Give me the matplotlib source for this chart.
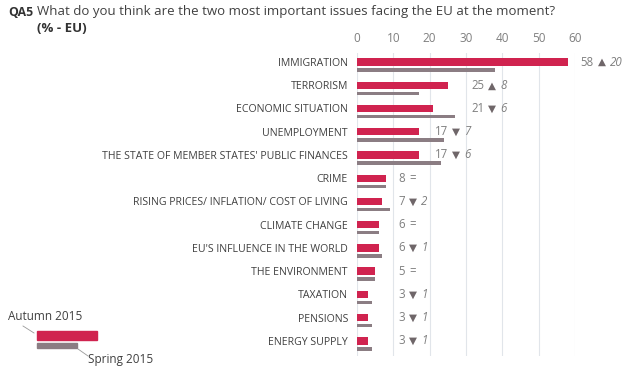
import numpy as np
import matplotlib
matplotlib.use("Agg")
import matplotlib.pyplot as plt
from matplotlib.patches import Rectangle
from matplotlib.lines import Line2D

# Data: Standard Eurobarometer QA5, autumn 2015 vs spring 2015
issues = [
    "IMMIGRATION", "TERRORISM", "ECONOMIC SITUATION", "UNEMPLOYMENT",
    "THE STATE OF MEMBER STATES' PUBLIC FINANCES", "CRIME",
    "RISING PRICES/ INFLATION/ COST OF LIVING", "CLIMATE CHANGE",
    "EU'S INFLUENCE IN THE WORLD", "THE ENVIRONMENT", "TAXATION",
    "PENSIONS", "ENERGY SUPPLY",
]
autumn_2015 = [58, 25, 21, 17, 17, 8, 7, 6, 6, 5, 3, 3, 3]
spring_2015 = [38, 17, 27, 24, 23, 8, 9, 6, 7, 5, 4, 4, 4]
change = [a - s for a, s in zip(autumn_2015, spring_2015)]
x_ticks = [0, 10, 20, 30, 40, 50, 60]

RED = "#d0234f"
GREY = "#8b7d83"
TEXT = "#404040"
LIGHT = "#7f7f7f"

plt.rcParams["font.family"] = ["Open Sans", "DejaVu Sans"]

fig = plt.figure(figsize=(6.25, 3.71), dpi=100)
ax = fig.add_axes([357 / 625, 1 - 355.6 / 371, 218 / 625, 302.2 / 371])

y = np.arange(len(issues))
ax.barh(y - 0.13, autumn_2015, height=0.32, color=RED, zorder=3)
ax.barh(y + 0.215, spring_2015, height=0.15, color=GREY, zorder=3)

ax.set_xlim(0, 60)
ax.set_ylim(len(issues) - 0.5, -0.5)
ax.set_xticks(x_ticks)
ax.xaxis.tick_top()
ax.tick_params(axis="x", length=0, pad=6, labelsize=8.5, labelcolor=LIGHT)
ax.set_yticks(y - 0.13)
ax.set_yticklabels(issues)
ax.tick_params(axis="y", length=0, pad=6.5, labelsize=7.6, labelcolor=TEXT)
for s in ax.spines.values():
    s.set_visible(False)
ax.grid(axis="x", color="#e1e5ea", linewidth=0.8, zorder=0)

# value + change annotations, placed just after the next gridline
for i, (v, d) in enumerate(zip(autumn_2015, change)):
    tx = np.ceil(v / 10) * 10 + 1.4
    t = ax.text(tx, i - 0.13, str(v), fontsize=8.3, color=LIGHT, va="center")
    if d == 0:
        ax.annotate("=", xy=(1, 0), xycoords=t, xytext=(3, 0),
                    textcoords="offset points", fontsize=8.3, color=LIGHT,
                    va="bottom")
    else:
        sym = "\u25b2" if d > 0 else "\u25bc"
        s = ax.annotate(sym, xy=(1, 0), xycoords=t, xytext=(3, 1),
                        textcoords="offset points", fontsize=7.5,
                        color="#6f6669", va="bottom", family="DejaVu Sans")
        ax.annotate(str(abs(d)), xy=(1, 0), xycoords=s, xytext=(3, -1),
                    textcoords="offset points", fontsize=8.3, color=LIGHT,
                    style="italic", va="bottom")

# title
fig.text(8 / 625, 1 - 12 / 371, "QA5", fontsize=8.8, fontweight="bold",
         color="#333333", va="center")
fig.text(37 / 625, 1 - 12 / 371,
         "What do you think are the two most important issues facing the EU at the moment?",
         fontsize=9.5, color=TEXT, va="center")
fig.text(37 / 625, 1 - 28 / 371, "(% - EU)", fontsize=9.5, fontweight="bold",
         color="#333333", va="center")

# hand-made legend
fig.patches.append(Rectangle((37 / 625, 1 - 340 / 371), 60 / 625, 9 / 371,
                             transform=fig.transFigure, color=RED))
fig.patches.append(Rectangle((37 / 625, 1 - 348 / 371), 40 / 625, 5 / 371,
                             transform=fig.transFigure, color=GREY))
fig.text(8 / 625, 1 - 317 / 371, "Autumn 2015", fontsize=8.5, color=TEXT, va="center")
fig.text(88 / 625, 1 - 359 / 371, "Spring 2015", fontsize=8.5, color=TEXT, va="center")
fig.lines.append(Line2D([23 / 625, 34 / 625], [1 - 326 / 371, 1 - 333 / 371],
                        transform=fig.transFigure, color="#999999", linewidth=0.6))
fig.lines.append(Line2D([78 / 625, 88 / 625], [1 - 349 / 371, 1 - 356 / 371],
                        transform=fig.transFigure, color="#999999", linewidth=0.6))

fig.savefig("out.png", dpi=100)
